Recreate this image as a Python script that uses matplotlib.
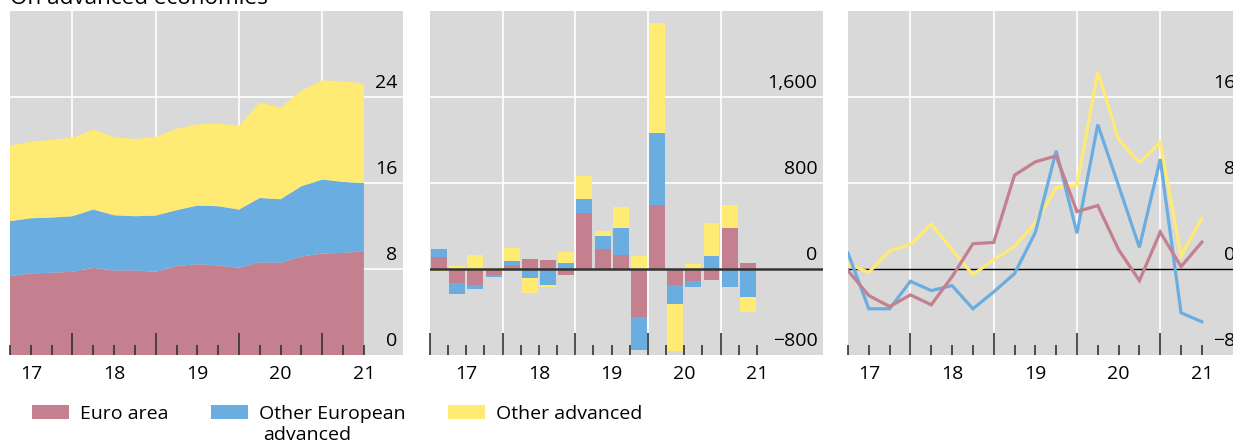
import numpy as np
import matplotlib.pyplot as plt
from matplotlib.transforms import ScaledTranslation

plt.rcParams['font.family'] = ['Open Sans', 'DejaVu Sans']
plt.rcParams['font.size'] = 14

# quarters 2017Q1 - 2021Q2
years = [2017, 2018, 2019, 2020, 2021]
quarters = [(y, q) for y in years for q in range(1, 5)][:18]

# stock, USD trn (stacked)
stock_euro = [7.34, 7.59, 7.65, 7.74, 8.11, 7.86, 7.86, 7.74, 8.27, 8.45, 8.33, 8.11, 8.61, 8.58, 9.16, 9.44, 9.50, 9.66]
stock_oth_eur = [5.11, 5.13, 5.14, 5.17, 5.42, 5.14, 5.05, 5.23, 5.20, 5.45, 5.51, 5.42, 6.00, 5.91, 6.54, 6.88, 6.60, 6.34]
stock_oth_adv = [7.02, 7.13, 7.24, 7.31, 7.43, 7.28, 7.18, 7.31, 7.58, 7.56, 7.71, 7.80, 8.89, 8.51, 8.91, 9.22, 9.35, 9.26]

# flows, USD bn
flow_euro = [114, -127, -148, -53, 40, 96, 86, -53, 522, 182, 133, -442, 596, -145, -108, -99, 383, 59]
flow_oth_eur = [74, -102, -34, -19, 37, -80, -145, 59, 130, 127, 250, -312, 667, -185, -56, 124, -164, -256]
flow_oth_adv = [-22, 31, 133, 8, 120, -139, -25, 102, 213, 46, 195, 124, 1029, -432, 49, 306, 213, -148]

# growth, %
growth_euro = [-0.15, -2.47, -3.49, -2.41, -3.33, -0.71, 2.35, 2.47, 8.73, 9.97, 10.52, 5.34, 5.90, 1.79, -1.08, 3.43, 0.22, 2.50]
growth_oth_eur = [1.48, -3.70, -3.70, -1.14, -2.01, -1.54, -3.70, -2.13, -0.43, 3.40, 10.99, 3.33, 13.43, 7.75, 2.01, 10.22, -4.07, -4.91]
growth_oth_adv = [0.46, -0.31, 1.70, 2.28, 4.17, 1.79, -0.52, 0.86, 2.10, 4.32, 7.56, 7.81, 18.36, 12.04, 9.91, 11.76, 1.23, 4.72]

labels = ['Euro area', 'Other European', 'Other advanced']
colors = ['#c4808f', '#6aade0', '#ffea73']

stock_ticks = [0, 8, 16, 24]
stock_ticklabels = ['0', '8', '16', '24']
flow_ticks = [-800, 0, 800, 1600]
flow_ticklabels = ['\u2212800', '0', '800', '1,600']
growth_ticks = [-8, 0, 8, 16]
growth_ticklabels = ['\u22128', '0', '8', '16']

q_end = np.array([y + q / 4 for y, q in quarters])
q_mid = q_end - 0.125

fig = plt.figure(figsize=(12.33, 4.44), dpi=100)
W, H = 1233, 444
axw = 393 / W
axh = 344 / H
bot = 89 / H
ax1 = fig.add_axes([10 / W, bot, axw, axh])
ax2 = fig.add_axes([430 / W, bot, axw, axh])
ax3 = fig.add_axes([848 / W, bot, axw, axh])

lift = ScaledTranslation(0, 3.5 / 72, fig.dpi_scale_trans)


def style(ax, xlim, ylim, yticks, yticklabels, first_year):
    ax.set_facecolor('#d9d9d9')
    for s in ax.spines.values():
        s.set_visible(False)
    ax.set_xlim(xlim)
    ax.set_ylim(ylim)
    # white grid
    for y in yticks[1:]:
        if y != 0:
            ax.axhline(y, color='white', lw=1.2, zorder=0.5)
    for x in range(first_year, 2022):
        if xlim[0] < x < xlim[1]:
            ax.axvline(x, color='white', lw=1.2, zorder=0.5)
    # x ticks: long at year starts, short at quarters, labels mid-year
    ax.set_xticks(list(range(first_year, 2022)))
    ax.set_xticklabels([])
    qt = [y + q / 4 for y in range(2017, 2022) for q in range(1, 4)]
    qt = [x for x in qt if x <= 2021.5]
    ax.set_xticks(qt, minor=True)
    ax.set_xticklabels([str(int(x))[2:] if x % 1 == 0.5 else '' for x in qt], minor=True)
    ax.tick_params(axis='x', which='major', direction='in', length=16, width=1.2, color='#333333')
    ax.tick_params(axis='x', which='minor', direction='in', length=7.5, width=1.2, color='#333333', pad=7)
    # y ticks inside on the right, above the lines
    ax.yaxis.tick_right()
    ax.set_yticks(yticks)
    ax.set_yticklabels(yticklabels)
    ax.tick_params(axis='y', length=0, pad=-4)
    for t in ax.get_yticklabels():
        t.set_ha('right')
        t.set_va('bottom')
        t.set_transform(t.get_transform() + lift)


# stock
style(ax1, (2017.25, 2021.97), (0, 32), stock_ticks, stock_ticklabels, 2018)
polys = ax1.stackplot(q_end, stock_euro, stock_oth_eur, stock_oth_adv, colors=colors, labels=labels, lw=0)

# flows
style(ax2, (2017.0, 2022.41), (-800, 2400), flow_ticks, flow_ticklabels, 2017)
pos_b = np.zeros(len(q_mid))
neg_b = np.zeros(len(q_mid))
for vals, c in zip([flow_euro, flow_oth_eur, flow_oth_adv], colors):
    v = np.array(vals, dtype=float)
    b = np.where(v >= 0, pos_b, neg_b)
    ax2.bar(q_mid, v, width=0.22, bottom=b, color=c, lw=0)
    pos_b += np.where(v >= 0, v, 0)
    neg_b += np.where(v < 0, v, 0)
ax2.axhline(0, color='#333333', lw=1.8, zorder=3)

# growth
style(ax3, (2017.25, 2021.97), (-8, 24), growth_ticks, growth_ticklabels, 2018)
ax3.axhline(0, color='black', lw=1.0, zorder=1.8)
for vals, c in zip([growth_oth_adv, growth_oth_eur, growth_euro], colors[::-1]):
    ax3.plot(q_end, vals, color=c, lw=2.3, solid_joinstyle='miter')

fig.text(10 / W, 1 - 3.5 / H, 'On advanced economies', fontsize=16.2, va='baseline')

leg = fig.legend(polys, labels, loc='upper left', bbox_to_anchor=(32 / W, 1 - 405 / H), ncol=3,
                 frameon=False, fontsize=14, handlelength=1.9, handleheight=0.77,
                 handletextpad=0.55, columnspacing=2.2, borderpad=0, borderaxespad=0)

# second line of the "Other European advanced" label
fig.canvas.draw()
bb = leg.get_texts()[1].get_window_extent()
fig.text((bb.x0 + 5) / W, ((bb.y0 + bb.y1) / 2 - 21) / H, 'advanced', fontsize=14, va='center')

fig.savefig('out.png', dpi=100)
